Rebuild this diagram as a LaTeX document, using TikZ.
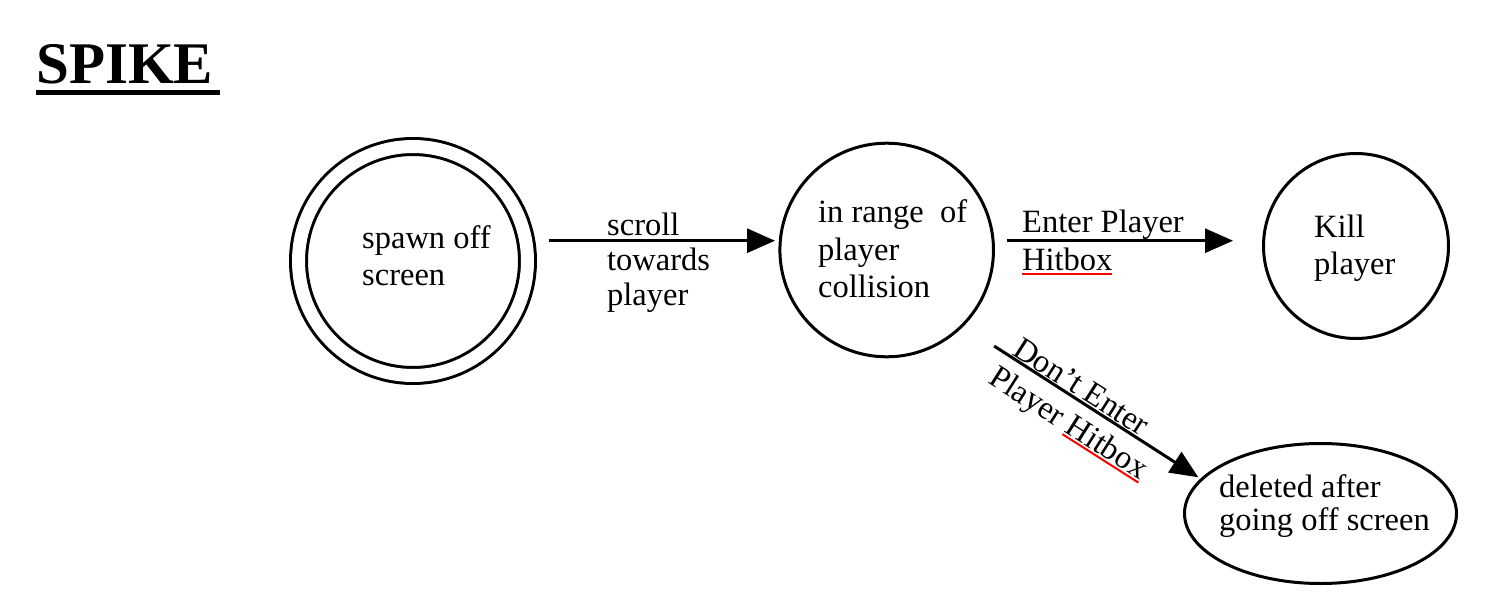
\documentclass[tikz,border=0pt]{standalone}
\usepackage{fontspec}
\setmainfont{Liberation Serif}
\usepackage{tikz}
\usetikzlibrary{arrows.meta, shapes.geometric}
\newcommand\spellmark[1]{\setbox0\hbox{#1}\rlap{\color{red}\rule[-4pt]{\wd0}{2pt}}#1}
\begin{document}
\begin{tikzpicture}[x=1pt, y=-1pt]
      \tikzset{vertex/.style = {shape=circle,draw,line width=3pt,inner sep=0pt,outer sep=0pt}}
      \tikzset{edge/.style = {-{Triangle[length=28pt,width=24pt]},line width=3pt}}
      \tikzset{lbl/.style = {font=\fontsize{32.5}{#1}\selectfont,align=left,inner sep=0pt,anchor=north west}, lbl/.default=37}
      \useasboundingbox (0,0) rectangle (1486,608);
      \node[font=\bfseries\fontsize{59}{59}\selectfont,inner sep=0pt,anchor=base west] (title) at (36,83) {SPIKE};
      \draw[line width=5pt] ([yshift=-9pt]title.base west) -- ([xshift=7pt,yshift=-9pt]title.base east);
      \node[vertex,double,double distance=13pt,minimum size=229pt] (spawn) at (413,261) {};
      \node[vertex,minimum size=213.6pt] (range) at (886.7,250) {};
      \node[vertex,minimum size=185pt] (kill) at (1356,246) {};
      \node[vertex,shape=ellipse,minimum width=272pt,minimum height=140pt] (gone) at (1320.5,513.5) {};
      \node[lbl] (spawnTxt) at (362,225.8) {spawn off\\screen};
      \node[lbl=35] (scrollTxt) at (607,212.8) {scroll\\towards\\player};
      \node[lbl=37.5] (rangeTxt) at (818,199.8) {in range~ of\\player\\collision};
      \node[lbl] (killTxt) at (1314,215) {Kill\\player};
      \node[lbl=38] (enterTxt) at (1022,210) {Enter Player\\\spellmark{Hitbox}};
      \node[lbl=33] (goneTxt) at (1219,474.8) {deleted after\\going off screen};
      \node[lbl,rotate=-32.5] (dontTxt) at (1018.5,332.9) {\hspace*{5pt}Don’t Enter\\Player \spellmark{Hitbox}};
      \draw[edge,shorten <=21.5pt,shorten >=5.3pt] (spawn.east |- range.175) to (range.175);
      \draw[edge,shorten <=14pt,shorten >=30.5pt] (range.5) to (range.5 -| kill.west);
      \draw[edge,shorten <=38pt,shorten >=4pt] (range.-45) to (gone.164);
\end{tikzpicture}
\end{document}
